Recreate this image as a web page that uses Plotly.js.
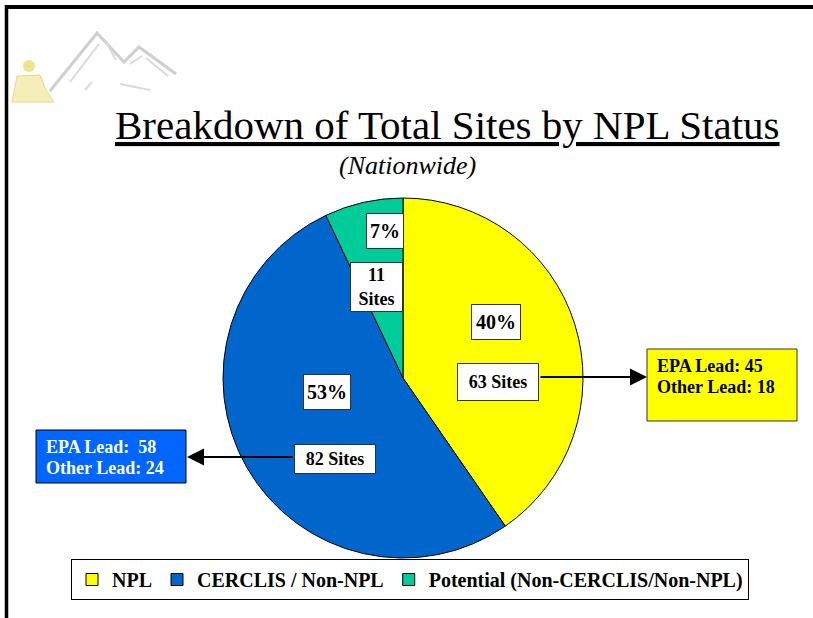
<!DOCTYPE html>
<html>
<head>
<meta charset="utf-8">
<script src="https://cdn.plot.ly/plotly-3.0.1.min.js"></script>
<style>html,body{margin:0;padding:0;background:#fff;}#chart{width:813px;height:618px;}</style>
</head>
<body>
<div id="chart"></div>
<script>
// ---- data ----
const categories = ['NPL', 'CERCLIS / Non-NPL', 'Potential (Non-CERCLIS/Non-NPL)'];
const siteCounts = [63, 82, 11];
const nplLeadLabels = ['EPA Lead:', 'Other Lead:'];
const nplLeadValues = [45, 18];
const cerclisLeadLabels = ['EPA Lead:\u00a0', 'Other Lead:'];
const cerclisLeadValues = [58, 24];
const titleText = 'Breakdown of Total Sites by NPL Status';
const subtitleText = '(Nationwide)';

// ---- styles / positions ----
const W = 813, H = 618;
const px = x => x / W;
const py = y => 1 - y / H;
const colors = ['#FFFF00', '#0066CC', '#00CC99'];
const serif = 'Liberation Serif, Times New Roman, serif';
const cx = 403, cy = 378, r = 180;

const total = siteCounts.reduce((a, b) => a + b, 0);

// label box positions (pixel centres) for pct and sites boxes
const pctPos = [[496, 322], [327, 392], [385, 231]];
const pctSize = [[48, 34], [46, 34], [36, 34]];
const sitePos = [[498, 382], [335, 459], [376, 287]];
const siteSize = [[80, 36], [80, 28], [51, 48]];

const annotations = [];
siteCounts.forEach((v, i) => {
  annotations.push({
    xref: 'paper', yref: 'paper', x: px(pctPos[i][0]), y: py(pctPos[i][1]),
    xanchor: 'center', yanchor: 'middle', showarrow: false,
    text: Math.round(v / total * 100) + '%',
    font: {family: serif, size: 20, color: '#000', weight: 'bold'},
    bgcolor: '#fff', bordercolor: '#333', borderwidth: 1, borderpad: 0,
    width: pctSize[i][0], height: pctSize[i][1]
  });
  annotations.push({
    xref: 'paper', yref: 'paper', x: px(sitePos[i][0]), y: py(sitePos[i][1]),
    xanchor: 'center', yanchor: 'middle', showarrow: false,
    text: v + (i === 2 ? '<br>' : ' ') + 'Sites',
    font: {family: serif, size: 18, color: '#000', weight: 'bold'},
    bgcolor: '#fff', bordercolor: '#333', borderwidth: 1, borderpad: 0,
    width: siteSize[i][0], height: siteSize[i][1]
  });
});

// lead breakdown text lines
nplLeadValues.forEach((v, i) => {
  annotations.push({
    xref: 'paper', yref: 'paper', x: px(655), y: py(366 + i * 21),
    xanchor: 'left', yanchor: 'middle', showarrow: false,
    text: nplLeadLabels[i] + ' ' + v,
    font: {family: serif, size: 18, color: '#000', weight: 'bold'}
  });
});
cerclisLeadValues.forEach((v, i) => {
  annotations.push({
    xref: 'paper', yref: 'paper', x: px(44), y: py(447 + i * 21),
    xanchor: 'left', yanchor: 'middle', showarrow: false,
    text: cerclisLeadLabels[i] + ' ' + v,
    font: {family: serif, size: 18, color: '#fff', weight: 'bold'}
  });
});

// arrows
annotations.push({
  xref: 'paper', yref: 'paper', x: px(647), y: py(377), ax: -(647 - 539), ay: 0,
  text: '', showarrow: true, arrowhead: 2, arrowsize: 1.7, arrowwidth: 2, arrowcolor: '#000', standoff: 0
});
annotations.push({
  xref: 'paper', yref: 'paper', x: px(187), y: py(457), ax: (294 - 187), ay: 0,
  text: '', showarrow: true, arrowhead: 2, arrowsize: 1.7, arrowwidth: 2, arrowcolor: '#000', standoff: 0
});

// titles
annotations.push({
  xref: 'paper', yref: 'paper', x: px(447), y: py(125), xanchor: 'center', yanchor: 'middle',
  showarrow: false, text: '<u>' + titleText + '</u>',
  font: {family: serif, size: 41, color: '#000'}
});
annotations.push({
  xref: 'paper', yref: 'paper', x: px(407), y: py(165), xanchor: 'center', yanchor: 'middle',
  showarrow: false, text: '<i>' + subtitleText + '</i>',
  font: {family: serif, size: 26, color: '#000'}
});

const P = pts => pts.map((p, k) => (k === 0 ? 'M' : 'L') + px(p[0]) + ',' + py(p[1])).join(' ');

const shapes = [
  // slide frame
  {type: 'line', xref: 'paper', yref: 'paper', x0: px(5), x1: px(813), y0: py(7), y1: py(7), line: {color: '#000', width: 4}},
  {type: 'line', xref: 'paper', yref: 'paper', x0: px(6.5), x1: px(6.5), y0: py(5), y1: py(618), line: {color: '#000', width: 3.5}},
  // boxes for lead breakdowns
  {type: 'rect', xref: 'paper', yref: 'paper', x0: px(647), x1: px(797), y0: py(349), y1: py(421), fillcolor: '#FFFF00', line: {color: '#333', width: 1}},
  {type: 'rect', xref: 'paper', yref: 'paper', x0: px(36), x1: px(186), y0: py(430), y1: py(483), fillcolor: '#0066FF', line: {color: '#000', width: 1}},
  // faint logo (mountains + figure)
  {type: 'path', xref: 'paper', yref: 'paper', path: P([[50, 91], [97, 33], [124, 62], [139, 47], [176, 74]]), line: {color: '#cfcfcf', width: 3}},
  {type: 'path', xref: 'paper', yref: 'paper', path: P([[70, 82], [99, 44]]) + ' ' + P([[105, 40], [116, 60]]) + ' ' + P([[130, 64], [142, 56]]) + ' ' + P([[146, 58], [168, 76]]) + ' ' + P([[85, 90], [92, 82]]) + ' ' + P([[120, 84], [150, 90]]), line: {color: '#dadada', width: 2}},
  {type: 'circle', xref: 'paper', yref: 'paper', x0: px(23), x1: px(35), y0: py(60), y1: py(72), fillcolor: '#f1e38c', line: {width: 0}},
  {type: 'path', xref: 'paper', yref: 'paper', path: P([[12, 102], [17, 76], [40, 75], [46, 90], [54, 102]]) + ' Z', fillcolor: '#f6eeb8', line: {color: '#e6d88c', width: 1}}
];

const trace = {
  type: 'pie',
  labels: categories,
  values: siteCounts,
  sort: false,
  direction: 'clockwise',
  rotation: 0,
  textinfo: 'none',
  hoverinfo: 'none',
  marker: {colors: colors, line: {color: '#000', width: 1}},
  domain: {x: [px(cx - r), px(cx + r)], y: [py(cy + r), py(cy - r)]}
};

const layout = {
  width: W, height: H,
  margin: {l: 0, r: 0, t: 0, b: 0},
  paper_bgcolor: '#fff',
  showlegend: true,
  legend: {
    orientation: 'h', x: px(71), y: py(559), xanchor: 'left', yanchor: 'top',
    bordercolor: '#000', borderwidth: 1, bgcolor: '#fff',
    font: {family: serif, size: 20, color: '#000', weight: 'bold'},
    itemclick: false, itemdoubleclick: false
  },
  annotations: annotations,
  shapes: shapes
};

Plotly.newPlot('chart', [trace], layout, {staticPlot: true});
</script>
</body>
</html>
